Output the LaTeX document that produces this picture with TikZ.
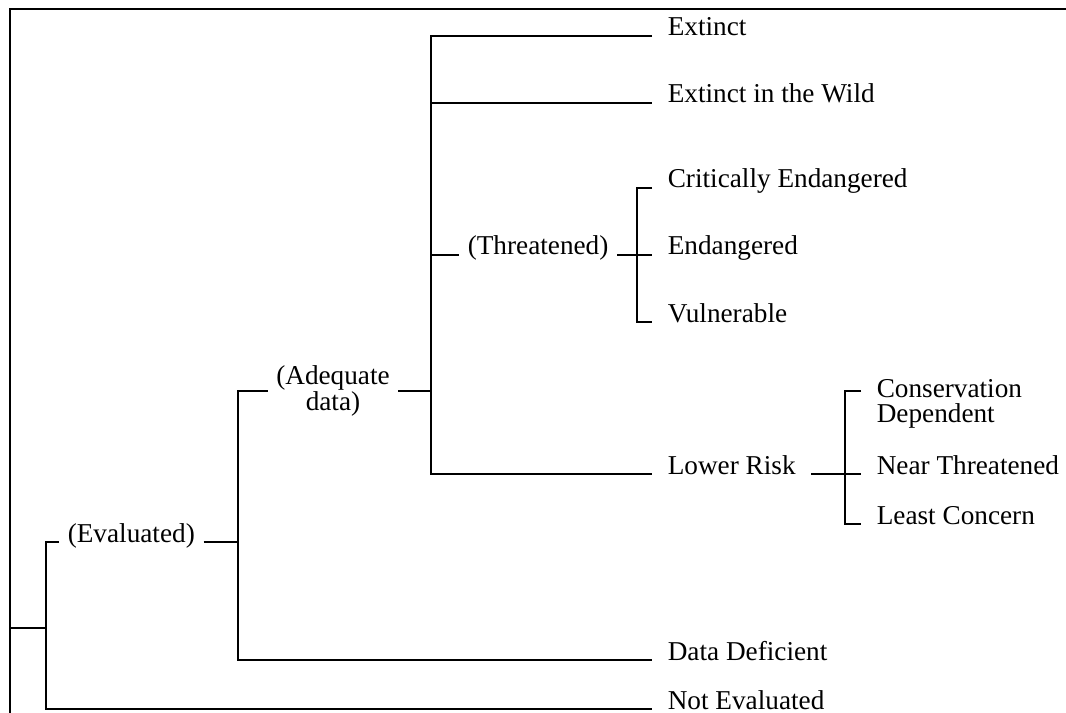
\documentclass[tikz,border=0pt]{standalone}
\usepackage{fontspec}
\setmainfont{Liberation Serif}

\begin{document}
\begin{tikzpicture}[x=0.02cm, y=-0.02cm, line width=0.9pt, font=\fontsize{15.5}{18}\selectfont,
  leaf/.style={anchor=base west, inner sep=0pt, outer xsep=9pt},
  group/.style={inner sep=0pt, outer xsep=5pt}]
  \useasboundingbox (0,0) rectangle (1066,713);
  % frame
  \draw (1066,9) -- (10,9) -- (10,713);
  \coordinate (stub) at (10,628);
  % vertical stems
  \coordinate (vR) at (46,0);
  \coordinate (vE) at (238,0);
  \coordinate (vA) at (431,0);
  \coordinate (vT) at (637,0);
  \coordinate (vL) at (845,0);
  \coordinate (cdtick) at (845,391);
  % group labels
  \node[group, anchor=base west] (ev) at (59,542) {(Evaluated)};
  \node[group, align=center, font=\fontsize{15.5}{14}\selectfont] (adq) at (333,391) {(Adequate\\data)};
  \node[group, anchor=base west] (thr) at (459,255) {(Threatened)};
  % categories
  \node[leaf] (ex) at (652,36) {Extinct};
  \node[leaf] (ew) at (652,103) {Extinct in the Wild};
  \node[leaf] (ce) at (652,188) {Critically Endangered};
  \node[leaf] (en) at (652,255) {Endangered};
  \node[leaf] (vu) at (652,322) {Vulnerable};
  \node[leaf] (lr) at (652,474) {Lower Risk};
  \node[leaf] (dd) at (652,660) {Data Deficient};
  \node[leaf] (ne) at (652,709) {Not Evaluated};
  \node[leaf, anchor=west, align=left, font=\fontsize{15.5}{14}\selectfont] (cd) at (861,404) {Conservation\\Dependent};
  \node[leaf] (nt) at (861,474) {Near Threatened};
  \node[leaf] (lc) at (861,524) {Least Concern};
  % root
  \draw (stub) -- (vR |- stub);
  \draw (ev.base west) -- (vR |- ev.base) -- (vR |- ne.base) -- (ne.base west);
  % evaluated
  \draw (ev.base east) -- (vE |- ev.base);
  \draw (adq.west) -- (vE |- adq) -- (vE |- dd.base) -- (dd.base west);
  % adequate data
  \draw (adq.east) -- (vA |- adq);
  \draw (ex.base west) -- (vA |- ex.base) -- (vA |- lr.base) -- (lr.base west);
  \draw (vA |- ew.base) -- (ew.base west);
  \draw (vA |- thr.base) -- (thr.base west);
  % threatened
  \draw (thr.base east) -- (en.base west);
  \draw (ce.base west) -- (vT |- ce.base) -- (vT |- vu.base) -- (vu.base west);
  % lower risk
  \draw (lr.base east) -- (nt.base west);
  \draw (cdtick -| cd.west) -- (cdtick) -- (vL |- lc.base) -- (lc.base west);
\end{tikzpicture}
\end{document}
